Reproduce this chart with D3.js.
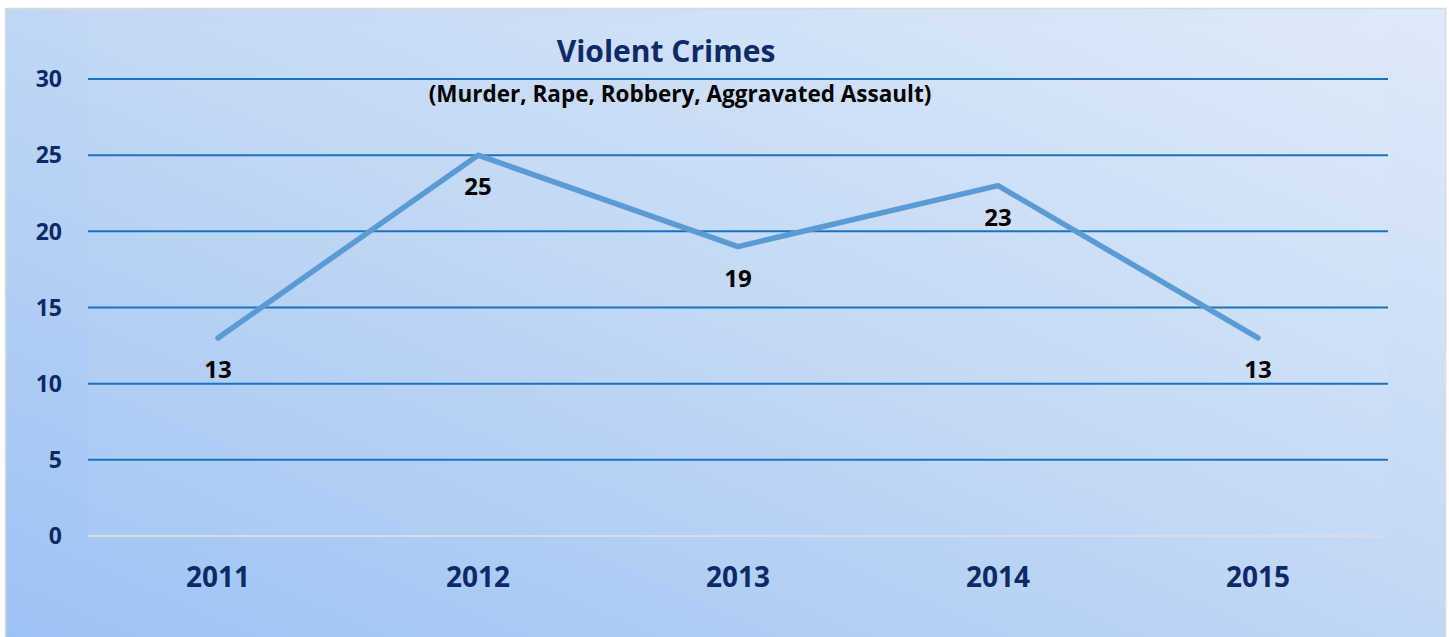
<!DOCTYPE html>
<html lang="en">
<head>
    <meta charset="UTF-8">
    <title>Violent Crimes</title>
    <script src="https://cdn.jsdelivr.net/npm/d3@7"></script>
    <style>
        body {
          margin: 0;
          background: #fff;
        }
        text {
          font-family: "Open Sans", Lato, sans-serif;
          font-weight: bold;
        }
    </style>
</head>
<body>
    <script>
        let years = ['2011', '2012', '2013', '2014', '2015'];
        let crimes = [13, 25, 19, 23, 13];
        let yTicks = [0, 5, 10, 15, 20, 25, 30];

        let w = 1449;
        let h = 637;
        let margin = {left: 88, right: 61, top: 79, bottom: 101};

        let svg = d3.select('body')
                    .append('svg')
                    .attr('width', w)
                    .attr('height', h)

        let defs = svg.append('defs');
        let grad = defs.append('linearGradient')
                       .attr('id', 'bg')
                       .attr('x1', '0%').attr('y1', '100%')
                       .attr('x2', '100%').attr('y2', '0%');
        grad.append('stop').attr('offset', '0%').attr('stop-color', '#9cc2f4');
        grad.append('stop').attr('offset', '50%').attr('stop-color', '#c0d7f5');
        grad.append('stop').attr('offset', '100%').attr('stop-color', '#dfeafa');

        // chart frame
        svg.append('rect')
           .attr('x', 5.5).attr('y', 8.5)
           .attr('width', 1440).attr('height', 640)
           .attr('fill', 'url(#bg)')
           .attr('stroke', '#d9d9d9')
           .attr('stroke-width', 1.5);

        let x = d3.scaleBand()
                  .domain(years)
                  .range([margin.left, w - margin.right]);

        let y = d3.scaleLinear()
                  .domain([0, 30])
                  .range([h - margin.bottom, margin.top]);

        // plot area tint
        svg.append('rect')
           .attr('x', margin.left).attr('y', 20)
           .attr('width', x.range()[1] - margin.left)
           .attr('height', y(0) - 20)
           .attr('fill', '#ffffff')
           .attr('opacity', 0.04);

        // gridlines
        svg.selectAll('.grid')
           .data(yTicks)
           .enter()
           .append('line')
           .attr('x1', margin.left)
           .attr('x2', x.range()[1])
           .attr('y1', d => y(d))
           .attr('y2', d => y(d))
           .attr('stroke', d => d === 0 ? '#d6dde6' : '#1a73c2')
           .attr('stroke-width', 2);

        // y labels
        svg.selectAll('.ylab')
           .data(yTicks)
           .enter()
           .append('text')
           .attr('x', 62)
           .attr('y', d => y(d))
           .attr('dy', '0.36em')
           .attr('text-anchor', 'end')
           .attr('font-size', 23)
           .attr('fill', '#0c2a68')
           .text(d => d);

        // x labels
        svg.selectAll('.xlab')
           .data(years)
           .enter()
           .append('text')
           .attr('x', d => x(d) + x.bandwidth() / 2)
           .attr('y', 587)
           .attr('text-anchor', 'middle')
           .attr('font-size', 28)
           .attr('fill', '#0c2a68')
           .text(d => d);

        let line = d3.line()
                     .x((d, i) => x(years[i]) + x.bandwidth() / 2)
                     .y(d => y(d));

        svg.append('path')
           .datum(crimes)
           .attr('d', line)
           .attr('fill', 'none')
           .attr('stroke', '#5b9bd5')
           .attr('stroke-width', 5.5)
           .attr('stroke-linecap', 'round')
           .attr('stroke-linejoin', 'round');

        // value labels
        svg.selectAll('.val')
           .data(crimes)
           .enter()
           .append('text')
           .attr('x', (d, i) => x(years[i]) + x.bandwidth() / 2)
           .attr('y', d => y(d) + 40)
           .attr('text-anchor', 'middle')
           .attr('font-size', 24)
           .attr('fill', '#000')
           .text(d => d);

        // titles
        svg.append('text')
           .attr('x', 666).attr('y', 62)
           .attr('text-anchor', 'middle')
           .attr('font-size', 30)
           .attr('fill', '#0c2a68')
           .text('Violent Crimes');

        svg.append('text')
           .attr('x', 680).attr('y', 102)
           .attr('text-anchor', 'middle')
           .attr('font-size', 22.5)
           .attr('fill', '#000')
           .text('(Murder, Rape, Robbery, Aggravated Assault)');
    </script>
</body>
</html>
